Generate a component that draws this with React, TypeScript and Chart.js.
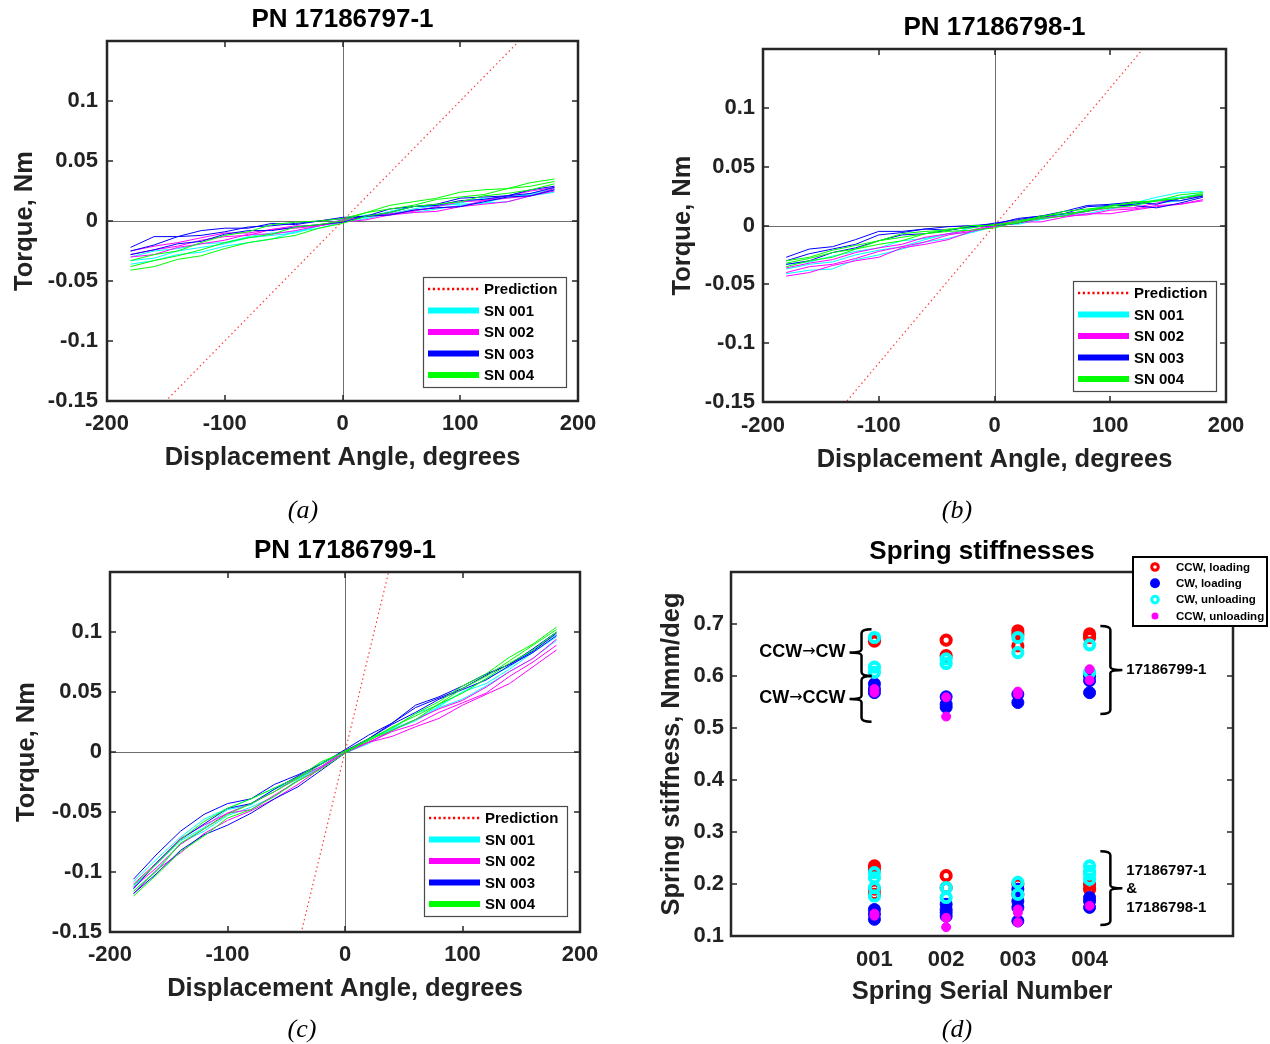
import React, { useEffect, useRef } from "react";
import { Chart, registerables } from "chart.js";
Chart.register(...registerables);

const W = 1270;
const H = 1044;
const FONT = 'Arial, "Liberation Sans", Helvetica, sans-serif';
const SERIF = '"Times New Roman", "Liberation Serif", serif';
const TITLE_SIZE = 26;
const AXIS_SIZE = 25.5;
const TICK_SIZE = 22;

// ---------- Torque-angle data (angle in degrees, torque in Nm) ----------
const ANGLES = [-180, -160, -140, -120, -100, -80, -60, -40, -20, 0, 20, 40, 60, 80, 100, 120, 140, 160, 180];

const A_SN001 = [
  [-0.030, -0.025, -0.023, -0.019, -0.018, -0.013, -0.010, -0.009, -0.004, 0.000, 0.005, 0.006, 0.010, 0.013, 0.014, 0.015, 0.020, 0.022, 0.026],
  [-0.036, -0.033, -0.028, -0.026, -0.021, -0.018, -0.015, -0.009, -0.006, -0.001, 0.002, 0.006, 0.007, 0.010, 0.013, 0.015, 0.016, 0.021, 0.024],
  [-0.033, -0.031, -0.025, -0.022, -0.019, -0.014, -0.012, -0.010, -0.004, 0.001, 0.003, 0.008, 0.012, 0.012, 0.015, 0.019, 0.019, 0.023, 0.027],
];
const A_SN002 = [
  [-0.025, -0.021, -0.018, -0.014, -0.010, -0.010, -0.007, -0.004, -0.004, 0.000, 0.004, 0.006, 0.008, 0.012, 0.016, 0.017, 0.021, 0.025, 0.028],
  [-0.030, -0.028, -0.022, -0.019, -0.016, -0.011, -0.011, -0.008, -0.004, -0.001, 0.001, 0.005, 0.007, 0.008, 0.012, 0.014, 0.016, 0.021, 0.025],
  [-0.028, -0.024, -0.021, -0.016, -0.013, -0.012, -0.007, -0.006, -0.004, 0.001, 0.004, 0.005, 0.009, 0.011, 0.012, 0.017, 0.019, 0.021, 0.027],
];
const A_SN003 = [
  [-0.022, -0.013, -0.013, -0.008, -0.006, -0.006, -0.002, -0.003, 0.000, 0.002, 0.004, 0.010, 0.012, 0.014, 0.019, 0.020, 0.021, 0.026, 0.029],
  [-0.028, -0.024, -0.019, -0.017, -0.011, -0.008, -0.008, -0.005, -0.003, -0.001, 0.004, 0.005, 0.009, 0.011, 0.012, 0.016, 0.020, 0.021, 0.026],
  [-0.025, -0.020, -0.013, -0.012, -0.009, -0.005, -0.004, -0.002, 0.000, 0.003, 0.004, 0.007, 0.012, 0.013, 0.017, 0.018, 0.021, 0.023, 0.028],
];
const A_SN004 = [
  [-0.033, -0.028, -0.025, -0.018, -0.012, -0.009, -0.003, -0.001, 0.000, 0.002, 0.007, 0.013, 0.016, 0.019, 0.024, 0.026, 0.027, 0.032, 0.035],
  [-0.041, -0.038, -0.032, -0.029, -0.023, -0.018, -0.015, -0.012, -0.006, -0.002, 0.004, 0.007, 0.012, 0.014, 0.016, 0.021, 0.023, 0.026, 0.031],
  [-0.038, -0.033, -0.029, -0.024, -0.018, -0.014, -0.011, -0.005, -0.003, 0.000, 0.007, 0.010, 0.013, 0.018, 0.020, 0.022, 0.027, 0.029, 0.033],
];

const B_SN001 = [
  [-0.037, -0.033, -0.031, -0.025, -0.021, -0.018, -0.012, -0.007, -0.006, -0.001, 0.004, 0.005, 0.009, 0.013, 0.015, 0.017, 0.022, 0.024, 0.027],
  [-0.041, -0.038, -0.037, -0.029, -0.025, -0.020, -0.014, -0.011, -0.006, 0.000, 0.004, 0.008, 0.009, 0.013, 0.018, 0.019, 0.024, 0.028, 0.029],
  [-0.033, -0.031, -0.026, -0.022, -0.019, -0.013, -0.011, -0.007, -0.002, 0.001, 0.001, 0.005, 0.009, 0.010, 0.014, 0.018, 0.019, 0.021, 0.025],
];
const B_SN002 = [
  [-0.040, -0.035, -0.033, -0.028, -0.022, -0.018, -0.014, -0.008, -0.005, -0.001, 0.002, 0.006, 0.008, 0.009, 0.013, 0.014, 0.017, 0.018, 0.022],
  [-0.043, -0.040, -0.034, -0.030, -0.027, -0.019, -0.016, -0.012, -0.005, 0.000, 0.003, 0.003, 0.007, 0.010, 0.010, 0.013, 0.016, 0.018, 0.021],
  [-0.036, -0.032, -0.029, -0.023, -0.019, -0.016, -0.010, -0.007, -0.004, 0.001, 0.004, 0.007, 0.008, 0.012, 0.015, 0.015, 0.019, 0.023, 0.025],
];
const B_SN003 = [
  [-0.027, -0.020, -0.018, -0.012, -0.005, -0.005, -0.003, -0.001, 0.000, 0.001, 0.006, 0.008, 0.012, 0.017, 0.018, 0.020, 0.018, 0.023, 0.026],
  [-0.033, -0.030, -0.023, -0.019, -0.013, -0.008, -0.007, -0.004, -0.001, 0.000, 0.002, 0.007, 0.010, 0.012, 0.017, 0.017, 0.015, 0.019, 0.024],
  [-0.030, -0.024, -0.020, -0.016, -0.008, -0.006, -0.003, -0.004, -0.001, 0.002, 0.005, 0.008, 0.010, 0.016, 0.017, 0.018, 0.021, 0.021, 0.025],
];
const B_SN004 = [
  [-0.030, -0.027, -0.021, -0.017, -0.013, -0.007, -0.005, -0.004, 0.000, 0.000, 0.004, 0.007, 0.012, 0.014, 0.016, 0.020, 0.021, 0.023, 0.027],
  [-0.035, -0.030, -0.027, -0.020, -0.016, -0.013, -0.007, -0.005, -0.004, -0.002, 0.003, 0.006, 0.008, 0.013, 0.015, 0.017, 0.021, 0.023, 0.026],
  [-0.032, -0.028, -0.023, -0.020, -0.013, -0.010, -0.007, -0.003, -0.002, 0.001, 0.002, 0.008, 0.010, 0.012, 0.017, 0.019, 0.021, 0.026, 0.028],
];

const C_SN001 = [
  [-0.108, -0.089, -0.071, -0.056, -0.047, -0.039, -0.030, -0.021, -0.009, 0.000, 0.011, 0.019, 0.032, 0.039, 0.050, 0.061, 0.071, 0.085, 0.098],
  [-0.116, -0.098, -0.076, -0.066, -0.053, -0.046, -0.037, -0.023, -0.012, -0.001, 0.007, 0.018, 0.026, 0.037, 0.044, 0.055, 0.067, 0.078, 0.093],
  [-0.112, -0.093, -0.074, -0.063, -0.048, -0.044, -0.031, -0.022, -0.012, 0.001, 0.010, 0.019, 0.027, 0.038, 0.050, 0.057, 0.069, 0.083, 0.096],
];
const C_SN002 = [
  [-0.113, -0.096, -0.077, -0.064, -0.051, -0.048, -0.036, -0.024, -0.013, 0.000, 0.008, 0.017, 0.023, 0.033, 0.041, 0.049, 0.063, 0.075, 0.089],
  [-0.118, -0.098, -0.084, -0.068, -0.057, -0.049, -0.039, -0.027, -0.013, -0.001, 0.008, 0.013, 0.021, 0.028, 0.039, 0.048, 0.057, 0.071, 0.085],
  [-0.110, -0.092, -0.072, -0.061, -0.051, -0.043, -0.033, -0.021, -0.012, 0.001, 0.008, 0.018, 0.027, 0.036, 0.043, 0.054, 0.067, 0.078, 0.094],
];
const C_SN003 = [
  [-0.106, -0.085, -0.066, -0.052, -0.043, -0.039, -0.027, -0.019, -0.010, 0.002, 0.014, 0.024, 0.039, 0.046, 0.055, 0.065, 0.073, 0.086, 0.100],
  [-0.118, -0.101, -0.082, -0.069, -0.061, -0.051, -0.039, -0.029, -0.015, -0.001, 0.011, 0.023, 0.033, 0.044, 0.052, 0.060, 0.072, 0.083, 0.097],
  [-0.114, -0.092, -0.073, -0.060, -0.047, -0.043, -0.031, -0.020, -0.010, 0.001, 0.011, 0.024, 0.037, 0.045, 0.053, 0.064, 0.073, 0.084, 0.099],
];
const C_SN004 = [
  [-0.111, -0.093, -0.073, -0.058, -0.047, -0.039, -0.030, -0.021, -0.008, 0.000, 0.011, 0.020, 0.032, 0.042, 0.055, 0.065, 0.079, 0.090, 0.104],
  [-0.120, -0.102, -0.083, -0.070, -0.055, -0.048, -0.037, -0.024, -0.014, -0.001, 0.010, 0.018, 0.027, 0.040, 0.049, 0.061, 0.074, 0.085, 0.100],
  [-0.116, -0.099, -0.076, -0.064, -0.052, -0.043, -0.033, -0.022, -0.010, 0.001, 0.009, 0.021, 0.030, 0.040, 0.053, 0.063, 0.076, 0.089, 0.102],
];

// Prediction lines (two end points each)
const PRED_X = [-180, 180];
const PRED_A = [-0.18, 0.18];
const PRED_B = [-0.2106, 0.2106];
const PRED_C = [-0.727, 0.727];

const SN_NAMES = ["SN 001", "SN 002", "SN 003", "SN 004"];
const SN_COLORS = ["#00FFFF", "#FF00FF", "#0000FF", "#00FF00"];

// ---------- Stiffness data (Nmm/deg) ----------
const SN_POS = [1, 2, 3, 4];
const SN_LABELS = ["001", "002", "003", "004"];
const CCW_LOADING = [
  [0.671, 0.667, 0.235, 0.228, 0.190, 0.180],
  [0.669, 0.639, 0.216, 0.193],
  [0.687, 0.680, 0.658, 0.200, 0.180],
  [0.681, 0.674, 0.199, 0.190],
];
const CW_LOADING = [
  [0.585, 0.575, 0.568, 0.151, 0.142, 0.132],
  [0.560, 0.546, 0.540, 0.161, 0.151, 0.145, 0.138],
  [0.565, 0.549, 0.190, 0.167, 0.155, 0.129],
  [0.600, 0.591, 0.568, 0.174, 0.167, 0.155],
];
const CW_UNLOADING = [
  [0.674, 0.617, 0.607, 0.222, 0.212, 0.193, 0.177],
  [0.633, 0.624, 0.193, 0.174],
  [0.674, 0.645, 0.203, 0.180],
  [0.660, 0.607, 0.235, 0.225, 0.219, 0.209],
];
const CCW_UNLOADING = [
  [0.575, 0.568, 0.143, 0.139],
  [0.559, 0.522, 0.135, 0.117],
  [0.570, 0.565, 0.151, 0.145, 0.126],
  [0.613, 0.592, 0.158],
];
const STIFF_LABELS = ["CCW, loading", "CW, loading", "CW, unloading", "CCW, unloading"];

// ---------- layout specs (page pixels) ----------
type Spec = {
  L: number; R: number; T: number; B: number;
  titleY: number; yTitleX: number; xTickY: number; xTitleY: number; gap: number;
  capX: number; capY: number; cap: string; legendX?: number; legendY?: number;
};
const SPEC_A: Spec = { L: 107, R: 578, T: 41, B: 401, titleY: 20, yTitleX: 25, xTickY: 424, xTitleY: 458, gap: 9, capX: 303, capY: 511, cap: "(a)", legendX: 423, legendY: 277 };
const SPEC_B: Spec = { L: 763, R: 1226, T: 49, B: 402, titleY: 28, yTitleX: 683, xTickY: 426, xTitleY: 460, gap: 8, capX: 957, capY: 511, cap: "(b)", legendX: 1073, legendY: 281 };
const SPEC_C: Spec = { L: 110, R: 580, T: 572, B: 932, titleY: 551, yTitleX: 27, xTickY: 955, xTitleY: 989, gap: 8, capX: 302, capY: 1030, cap: "(c)", legendX: 424, legendY: 806 };
const SPEC_D: Spec = { L: 731, R: 1233, T: 572, B: 936, titleY: 552, yTitleX: 672, xTickY: 960, xTitleY: 992, gap: 7, capX: 957, capY: 1030, cap: "(d)" };

const FRAME = "#262626";
const TEXT = "#222222";

function baseOptions(spec: Spec, title: string, xTitle: string, yTitle: string, xExtra: any, yExtra: any) {
  const titleLH = TITLE_SIZE * 1.2;
  const axisLH = AXIS_SIZE * 1.2;
  const tickLH = TICK_SIZE * 1.2;
  const padL = spec.yTitleX - axisLH / 2;
  const yW = spec.L - padL;
  const xH = spec.xTitleY + axisLH / 2 - spec.B;
  const padB = H - spec.B - xH;
  const tickFont = { size: TICK_SIZE, weight: "bold" as const, family: FONT };
  const axisFont = { size: AXIS_SIZE, weight: "bold" as const, family: FONT };
  return {
    responsive: false,
    animation: false,
    events: [],
    layout: { padding: { left: padL, top: 0, right: W - spec.R, bottom: padB } },
    plugins: {
      legend: { display: false },
      tooltip: { enabled: false },
      title: {
        display: true,
        text: title,
        fullSize: false,
        color: "#000",
        font: { size: TITLE_SIZE, weight: "bold", family: FONT },
        padding: { top: spec.titleY - titleLH / 2, bottom: spec.T - spec.titleY - titleLH / 2 },
      },
    },
    scales: {
      x: {
        type: "linear",
        position: "bottom",
        afterFit: (s: any) => { s.height = xH; },
        grid: { display: false, drawTicks: false },
        border: { display: false },
        title: { display: true, text: xTitle, color: TEXT, font: axisFont, padding: { top: 0, bottom: 0 } },
        ...xExtra,
        ticks: { autoSkip: false, maxRotation: 0, minRotation: 0, padding: spec.xTickY - spec.B - tickLH / 2, color: TEXT, font: tickFont, ...xExtra.ticks },
      },
      y: {
        type: "linear",
        position: "left",
        afterFit: (s: any) => { s.width = yW; },
        grid: { display: false, drawTicks: false },
        border: { display: false },
        title: { display: true, text: yTitle, color: TEXT, font: axisFont, padding: { top: 0, bottom: 0 } },
        ...yExtra,
        ticks: { autoSkip: false, padding: spec.gap, color: TEXT, font: tickFont, ...yExtra.ticks },
      },
    },
  };
}

function drawFrame(chart: any, ticksX: boolean) {
  const { ctx, chartArea: ca, scales } = chart;
  ctx.save();
  ctx.strokeStyle = FRAME;
  ctx.lineWidth = 1.5;
  const tl = 6;
  ctx.beginPath();
  if (ticksX) {
    scales.x.ticks.forEach((t: any) => {
      const px = Math.round(scales.x.getPixelForValue(t.value));
      if (px <= ca.left + 2 || px >= ca.right - 2) return;
      ctx.moveTo(px, ca.top); ctx.lineTo(px, ca.top + tl);
      ctx.moveTo(px, ca.bottom); ctx.lineTo(px, ca.bottom - tl);
    });
  }
  scales.y.ticks.forEach((t: any) => {
    const py = Math.round(scales.y.getPixelForValue(t.value));
    if (py <= ca.top + 2 || py >= ca.bottom - 2) return;
    ctx.moveTo(ca.left, py); ctx.lineTo(ca.left + tl, py);
    ctx.moveTo(ca.right, py); ctx.lineTo(ca.right - tl, py);
  });
  ctx.stroke();
  ctx.lineWidth = 2.5;
  ctx.strokeRect(ca.left, ca.top, ca.right - ca.left, ca.bottom - ca.top);
  ctx.restore();
}

function drawCaption(chart: any, spec: Spec) {
  const { ctx } = chart;
  ctx.save();
  ctx.fillStyle = "#000";
  ctx.font = `italic 26px ${SERIF}`;
  ctx.textAlign = "center";
  ctx.textBaseline = "middle";
  ctx.fillText(spec.cap, spec.capX, spec.capY);
  ctx.restore();
}

function linePlugin(spec: Spec) {
  return {
    id: "lineDeco",
    beforeDatasetsDraw(chart: any) {
      const { ctx, chartArea: ca, scales } = chart;
      const x0 = Math.round(scales.x.getPixelForValue(0)) + 0.5;
      const y0 = Math.round(scales.y.getPixelForValue(0)) + 0.5;
      ctx.save();
      ctx.strokeStyle = "#6e6e6e";
      ctx.lineWidth = 1;
      ctx.beginPath();
      ctx.moveTo(x0, ca.top); ctx.lineTo(x0, ca.bottom);
      ctx.moveTo(ca.left, y0); ctx.lineTo(ca.right, y0);
      ctx.stroke();
      ctx.restore();
    },
    afterDatasetsDraw(chart: any) {
      drawFrame(chart, true);
      const { ctx } = chart;
      const lx = spec.legendX as number;
      const ly = spec.legendY as number;
      ctx.save();
      ctx.fillStyle = "#fff";
      ctx.fillRect(lx, ly, 143, 110);
      ctx.strokeStyle = "#4a4a4a";
      ctx.lineWidth = 1.2;
      ctx.strokeRect(lx + 0.5, ly + 0.5, 143, 110);
      const labels = ["Prediction", ...SN_NAMES];
      labels.forEach((lab, i) => {
        const yy = ly + 12 + i * 21.5;
        ctx.beginPath();
        if (i === 0) {
          ctx.strokeStyle = "#FF0000";
          ctx.lineWidth = 2.5;
          ctx.setLineDash([2.2, 2.6]);
        } else {
          ctx.strokeStyle = SN_COLORS[i - 1];
          ctx.lineWidth = 6;
          ctx.setLineDash([]);
        }
        ctx.moveTo(lx + 5, yy);
        ctx.lineTo(lx + 56, yy);
        ctx.stroke();
        ctx.setLineDash([]);
        ctx.fillStyle = "#000";
        ctx.font = `bold 15px ${FONT}`;
        ctx.textAlign = "left";
        ctx.textBaseline = "middle";
        ctx.fillText(lab, lx + 61, yy + 1);
      });
      ctx.restore();
    },
    afterDraw(chart: any) { drawCaption(chart, spec); },
  };
}

function lineDatasets(series: number[][][], pred: number[]) {
  const ds: any[] = [
    {
      label: "Prediction",
      data: PRED_X.map((x, i) => ({ x, y: pred[i] })),
      showLine: true,
      borderColor: "rgba(255,40,40,0.9)",
      borderWidth: 1.2,
      borderDash: [1.5, 3],
      pointRadius: 0,
      order: -1,
    },
  ];
  series.forEach((branches, s) => {
    branches.forEach((b) => {
      ds.push({
        label: SN_NAMES[s],
        data: ANGLES.map((x, i) => ({ x, y: b[i] })),
        showLine: true,
        borderColor: SN_COLORS[s],
        borderWidth: 1,
        pointRadius: 0,
        tension: 0,
        order: 4 - s,
      });
    });
  });
  return ds;
}

function torqueTick(v: any) {
  const n = Number(v);
  if (n > 0.149) return "";
  const r = Math.round(n * 100) / 100;
  return r === 0 ? "0" : String(r);
}

function makeLineChart(canvas: HTMLCanvasElement, spec: Spec, title: string, series: number[][][], pred: number[]) {
  const opts: any = baseOptions(
    spec, title, "Displacement Angle, degrees", "Torque, Nm",
    { min: -200, max: 200, ticks: { stepSize: 100, callback: (v: any) => String(Math.round(Number(v))) } },
    { min: -0.15, max: 0.15, ticks: { stepSize: 0.05, callback: torqueTick } }
  );
  return new Chart(canvas, {
    type: "scatter",
    data: { datasets: lineDatasets(series, pred) },
    options: opts,
    plugins: [linePlugin(spec)],
  } as any);
}

function drawBrace(ctx: any, xb: number, yt: number, yb: number, side: number) {
  // side -1: "{" (nub to the left), +1: "}" (nub to the right)
  const arm = -side * 10;
  const nub = side * 12;
  const ym = (yt + yb) / 2;
  ctx.beginPath();
  ctx.moveTo(xb + arm, yt);
  ctx.quadraticCurveTo(xb, yt, xb, yt + 4);
  ctx.lineTo(xb, ym - 3);
  ctx.quadraticCurveTo(xb, ym, xb + nub, ym);
  ctx.moveTo(xb + nub, ym);
  ctx.quadraticCurveTo(xb, ym, xb, ym + 3);
  ctx.lineTo(xb, yb - 4);
  ctx.quadraticCurveTo(xb, yb, xb + arm, yb);
  ctx.stroke();
}

// draws "A→B" right-aligned at x, with the arrow taken from DejaVu Sans
function drawArrowLabel(ctx: any, left: string, right: string, xRight: number, y: number) {
  const main = `bold 18px ${FONT}`;
  const arrowFont = `16px "DejaVu Sans", sans-serif`;
  ctx.font = main;
  const wr = ctx.measureText(right).width;
  const wl = ctx.measureText(left).width;
  ctx.font = arrowFont;
  const wa = ctx.measureText("\u2192").width;
  let x = xRight - wr - wa - wl;
  ctx.textAlign = "left";
  ctx.font = main;
  ctx.fillText(left, x, y);
  x += wl;
  ctx.font = arrowFont;
  ctx.fillText("\u2192", x, y);
  x += wa;
  ctx.font = main;
  ctx.fillText(right, x, y);
}

function stiffPlugin(spec: Spec) {
  return {
    id: "stiffDeco",
    afterDatasetsDraw(chart: any) {
      drawFrame(chart, false);
      const { ctx, scales } = chart;
      const px = (v: number) => scales.x.getPixelForValue(v);
      const py = (v: number) => scales.y.getPixelForValue(v);
      ctx.save();
      ctx.strokeStyle = "#000";
      ctx.lineWidth = 2.5;
      const lb = px(0.82);
      const rb = px(4.29);
      drawBrace(ctx, lb, py(0.690), py(0.600), -1);
      drawBrace(ctx, lb, py(0.600), py(0.512), -1);
      drawBrace(ctx, rb, py(0.696), py(0.527), 1);
      drawBrace(ctx, rb, py(0.263), py(0.121), 1);
      ctx.fillStyle = "#000";
      ctx.textBaseline = "middle";
      drawArrowLabel(ctx, "CCW", "CW", lb - 16, py(0.646));
      drawArrowLabel(ctx, "CW", "CCW", lb - 16, py(0.558));
      ctx.font = `bold 15px ${FONT}`;
      ctx.textAlign = "left";
      ctx.fillText("17186799-1", rb + 16, py(0.6115));
      ctx.fillText("17186797-1", rb + 16, py(0.225));
      ctx.fillText("&", rb + 16, py(0.1905));
      ctx.fillText("17186798-1", rb + 16, py(0.154));

      // legend
      const lx = 1133, ly = 557, lw = 134, lh = 69;
      ctx.fillStyle = "#fff";
      ctx.fillRect(lx, ly, lw, lh);
      ctx.strokeStyle = "#000";
      ctx.lineWidth = 2;
      ctx.strokeRect(lx, ly, lw, lh);
      const styles = [
        { c: "#FF0000", fill: false, r: 3.3, bw: 3 },
        { c: "#0000FF", fill: true, r: 5, bw: 0 },
        { c: "#00FFFF", fill: false, r: 3.3, bw: 3 },
        { c: "#FF00FF", fill: true, r: 3.5, bw: 0 },
      ];
      STIFF_LABELS.forEach((lab, i) => {
        const yy = ly + 10 + i * 16.3;
        const st = styles[i];
        ctx.beginPath();
        ctx.arc(1155, yy, st.r, 0, Math.PI * 2);
        if (st.fill) { ctx.fillStyle = st.c; ctx.fill(); }
        else { ctx.strokeStyle = st.c; ctx.lineWidth = st.bw; ctx.stroke(); }
        ctx.fillStyle = "#000";
        ctx.font = `bold 11.5px ${FONT}`;
        ctx.textAlign = "left";
        ctx.fillText(lab, 1176, yy + 0.5);
      });
      ctx.restore();
    },
    afterDraw(chart: any) { drawCaption(chart, spec); },
  };
}

function makeStiffChart(canvas: HTMLCanvasElement) {
  const toPts = (arr: number[][]) => arr.flatMap((vals, i) => vals.map((y) => ({ x: SN_POS[i], y })));
  const datasets: any[] = [
    { label: STIFF_LABELS[0], data: toPts(CCW_LOADING), pointRadius: 4.6, pointBorderWidth: 4, pointBackgroundColor: "rgba(0,0,0,0)", pointBorderColor: "#FF0000", order: 3 },
    { label: STIFF_LABELS[1], data: toPts(CW_LOADING), pointRadius: 6, pointBorderWidth: 1, pointBackgroundColor: "#0000FF", pointBorderColor: "#0000FF", order: 2 },
    { label: STIFF_LABELS[2], data: toPts(CW_UNLOADING), pointRadius: 4.6, pointBorderWidth: 4, pointBackgroundColor: "rgba(0,0,0,0)", pointBorderColor: "#00FFFF", order: 1 },
    { label: STIFF_LABELS[3], data: toPts(CCW_UNLOADING), pointRadius: 4.5, pointBorderWidth: 1, pointBackgroundColor: "#FF00FF", pointBorderColor: "#FF00FF", order: 0 },
  ];
  const opts: any = baseOptions(
    SPEC_D, "Spring stiffnesses", "Spring Serial Number", "Spring stiffness, Nmm/deg",
    {
      min: -1, max: 6,
      afterBuildTicks: (s: any) => { s.ticks = SN_POS.map((v) => ({ value: v })); },
      ticks: { callback: (v: any) => { const k = SN_POS.indexOf(Number(v)); return k >= 0 ? SN_LABELS[k] : ""; } },
    },
    {
      min: 0.1, max: 0.8,
      ticks: { stepSize: 0.1, callback: (v: any) => (Number(v) > 0.79 ? "" : Number(v).toFixed(1)) },
    }
  );
  return new Chart(canvas, {
    type: "scatter",
    data: { datasets },
    options: opts,
    plugins: [stiffPlugin(SPEC_D)],
  } as any);
}

function Layer({ make }: { make: (c: HTMLCanvasElement) => Chart }) {
  const ref = useRef<HTMLCanvasElement>(null);
  useEffect(() => {
    const ch = make(ref.current as HTMLCanvasElement);
    return () => ch.destroy();
  }, []);
  return (
    <canvas
      ref={ref}
      width={W}
      height={H}
      style={{ position: "absolute", left: 0, top: 0, width: W, height: H }}
    />
  );
}

export default function App() {
  return (
    <div style={{ position: "absolute", left: 0, top: 0, width: W, height: H, background: "#fff", overflow: "hidden" }}>
      <Layer make={(c) => makeLineChart(c, SPEC_A, "PN 17186797-1", [A_SN001, A_SN002, A_SN003, A_SN004], PRED_A)} />
      <Layer make={(c) => makeLineChart(c, SPEC_B, "PN 17186798-1", [B_SN001, B_SN002, B_SN003, B_SN004], PRED_B)} />
      <Layer make={(c) => makeLineChart(c, SPEC_C, "PN 17186799-1", [C_SN001, C_SN002, C_SN003, C_SN004], PRED_C)} />
      <Layer make={makeStiffChart} />
    </div>
  );
}
